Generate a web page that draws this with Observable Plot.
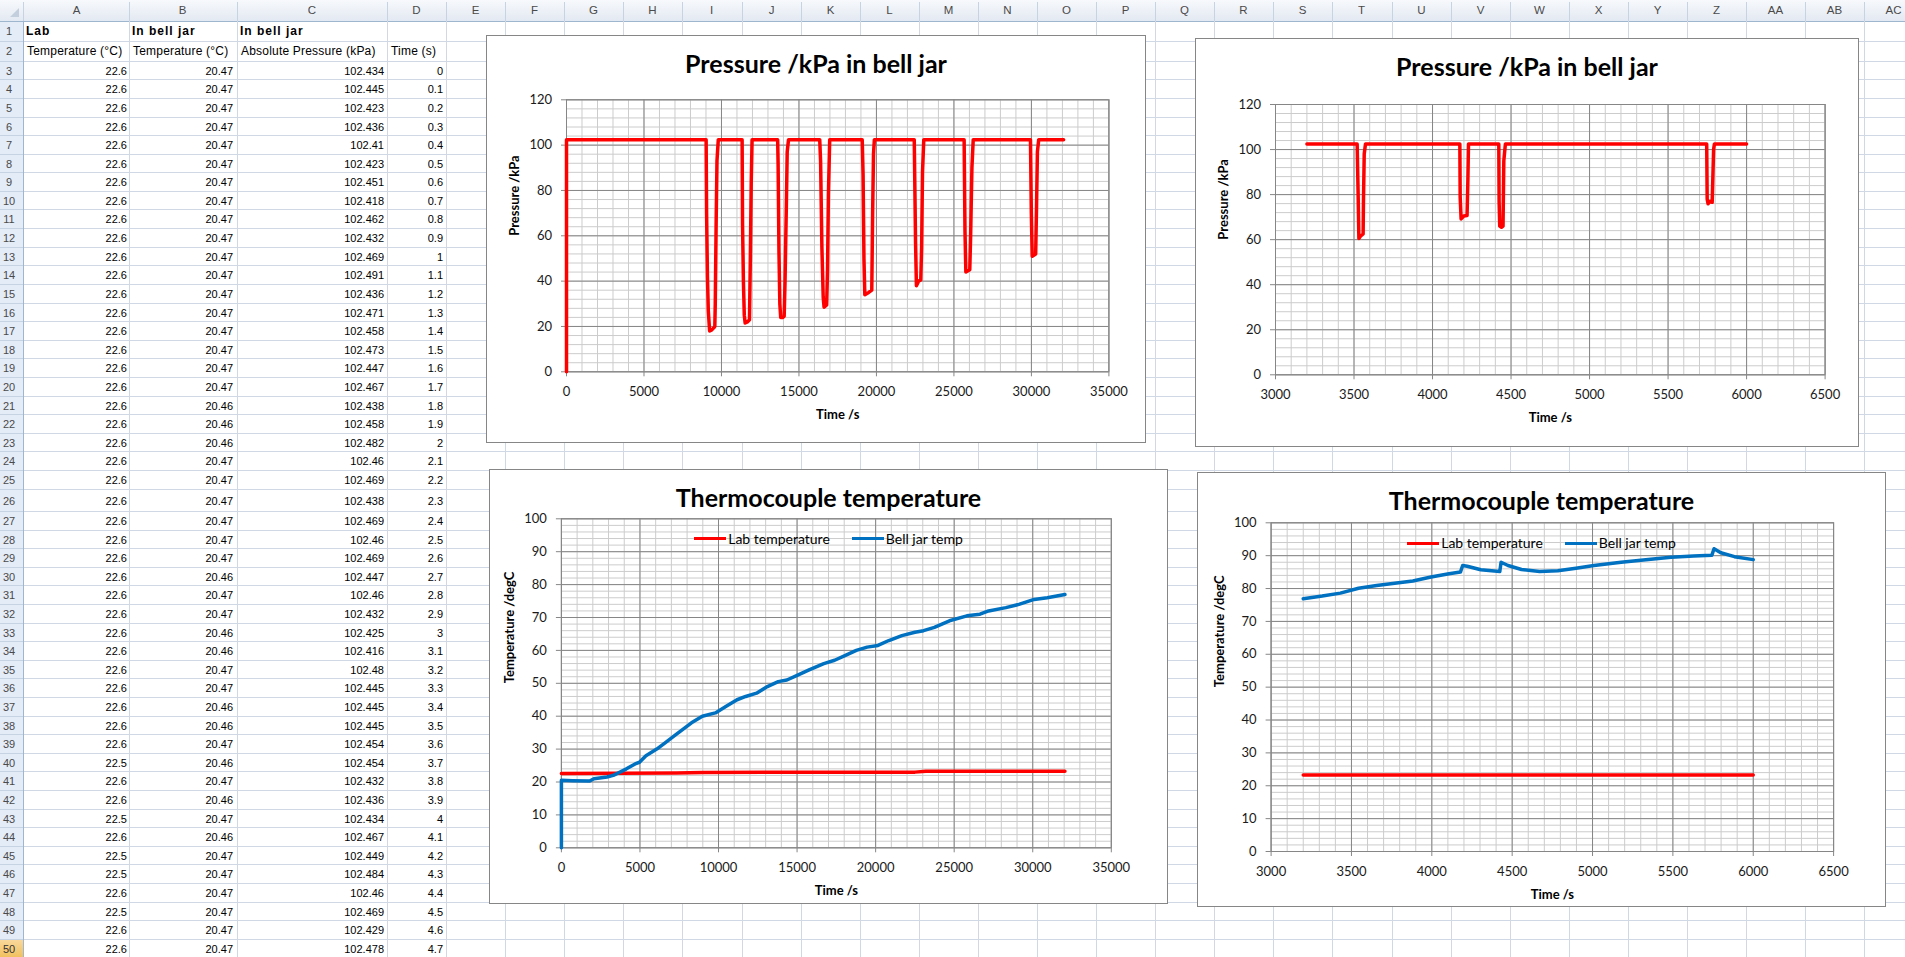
<!DOCTYPE html>
<html><head><meta charset="utf-8">
<script src="https://cdn.jsdelivr.net/npm/d3@7"></script>
<script src="https://cdn.jsdelivr.net/npm/@observablehq/plot@0.6"></script>
<style>
html,body{margin:0;padding:0;background:#fff;}
body{width:1905px;height:957px;overflow:hidden;position:relative;font-family:"Liberation Sans",Arial,sans-serif;}
.abs{position:absolute;}
.cell{position:absolute;font-size:11px;color:#000;white-space:nowrap;overflow:hidden;box-sizing:border-box;}
.chart{position:absolute;background:#fff;border:1px solid #868686;box-sizing:border-box;}
.chart svg{position:absolute;left:0;top:0;}
.ctitle{position:absolute;left:0;right:0;text-align:center;font:bold 25px/30px Lato,sans-serif;color:#000;white-space:nowrap;}
.legend{position:absolute;left:0;right:0;display:flex;justify-content:center;align-items:center;font:14px/20px Lato,sans-serif;color:#000;}
.legend .item{display:flex;align-items:center;margin:0 11px;}
.legend .sw{width:32px;height:3.5px;margin-right:2px;}
</style>
</head>
<body>
<script>
// ---------------- spreadsheet contents ----------------
const sheetHeaderRow1 = ["Lab", "In bell jar", "In bell jar", ""];
const sheetHeaderRow2 = ["Temperature (°C)", "Temperature (°C)", "Absolute Pressure (kPa)", "Time (s)"];
const sheetLabTemp = [22.6,22.6,22.6,22.6,22.6,22.6,22.6,22.6,22.6,22.6,22.6,22.6,22.6,22.6,22.6,22.6,22.6,22.6,22.6,22.6,22.6,22.6,22.6,22.6,22.6,22.6,22.6,22.6,22.6,22.6,22.6,22.6,22.6,22.6,22.6,22.6,22.6,22.5,22.6,22.6,22.5,22.6,22.5,22.5,22.6,22.5,22.6,22.6];
const sheetBellTemp = [20.47,20.47,20.47,20.47,20.47,20.47,20.47,20.47,20.47,20.47,20.47,20.47,20.47,20.47,20.47,20.47,20.47,20.47,20.46,20.46,20.46,20.47,20.47,20.47,20.47,20.47,20.47,20.46,20.47,20.47,20.46,20.46,20.47,20.47,20.46,20.46,20.47,20.46,20.47,20.46,20.47,20.46,20.47,20.47,20.47,20.47,20.47,20.47];
const sheetPressure = [102.434,102.445,102.423,102.436,102.41,102.423,102.451,102.418,102.462,102.432,102.469,102.491,102.436,102.471,102.458,102.473,102.447,102.467,102.438,102.458,102.482,102.46,102.469,102.438,102.469,102.46,102.469,102.447,102.46,102.432,102.425,102.416,102.48,102.445,102.445,102.445,102.454,102.454,102.432,102.436,102.434,102.467,102.449,102.484,102.46,102.469,102.429,102.478];
const sheetTime = [0,0.1,0.2,0.3,0.4,0.5,0.6,0.7,0.8,0.9,1,1.1,1.2,1.3,1.4,1.5,1.6,1.7,1.8,1.9,2,2.1,2.2,2.3,2.4,2.5,2.6,2.7,2.8,2.9,3,3.1,3.2,3.3,3.4,3.5,3.6,3.7,3.8,3.9,4,4.1,4.2,4.3,4.4,4.5,4.6,4.7];
const columnLetters = ["A","B","C","D","E","F","G","H","I","J","K","L","M","N","O","P","Q","R","S","T","U","V","W","X","Y","Z","AA","AB","AC"];

// ---------------- chart data ----------------
// Chart 1: pressure, whole run
const p1Time = [0,0,9010,9040,9095,9150,9235,9375,9515,9570,9600,9655,9710,9795,
  11332,11360,11416,11472,11528,11668,11808,11863,11919,11975,
  13626,13654,13710,13766,13822,13962,14046,14102,14186,14242,14326,
  16340,16396,16480,16564,16620,16788,16844,16900,16984,
  19082,19138,19194,19250,19502,19698,19754,19810,19866,
  22440,22524,22580,22720,22860,22916,22972,23055,
  25658,25714,25770,26022,26078,26161,26245,
  29939,29995,30051,30275,30331,30387,30470,32080];
const p1Pressure = [0,102.4,102.4,70,42,27,18,18.5,19.5,20,30,65,93,102.4,
  102.4,65,40,25,21.5,22,23,50,83,102.4,
  102.4,92,53,30,24,24,24.5,40,73,97,102.4,
  102.4,93,55,33,28.5,29.5,45,78,102.4,
  102.4,87,50,34,35,36,70,96,102.4,
  102.4,57,38,40,40.5,55,88,102.4,
  102.4,62,44,45,60,90,102.4,
  102.4,70,51,52,73,97,102.4,102.4];
// Chart 2: pressure, 3200 s to 6000 s
const p2Time = [3200,3520,3526,3531,3541,3558,3560,3565,3573,
  4174,4176,4182,4199,4220,4225,4229,
  4422,4424,4428,4439,4449,4454,4464,
  5746,5749,5755,5766,5781,5790,5795,6000];
const p2Pressure = [102.5,102.5,81,60.5,61.5,62.5,76,98,102.5,
  102.5,79,69.2,70.5,70.7,86,102.5,
  102.5,77,66,65.5,66,95,102.5,
  102.5,78,75.9,77,76.6,100,102.5,102.5];
// Chart 3: temperatures, whole run
const t1LabTime = [0,7300,9000,22500,23200,32050];
const t1LabTemp = [22.6,22.7,22.9,23.0,23.3,23.3];
const t1BellTime = [0,0,700,1800,2070,2900,3300,3730,4140,4690,4970,5380,6070,6620,7180,7730,8280,8970,9800,10490,11180,11730,12420,13110,13800,14350,15040,15730,16700,17390,18080,18770,19460,20150,20840,21670,22500,23050,23740,24700,25810,26640,27190,28290,29120,30090,30920,32050];
const t1BellTemp = [0,20.5,20.4,20.3,21,21.5,22,23,24,25.5,26,28,30,32,34,36,38,40,41,43,45,46,47,49,50.5,51,52.5,54,56,57,58.5,60,61,61.5,63,64.5,65.5,66,67,69,70.5,71,72,73,74,75.5,76,77];
// Chart 4: temperatures, 3200 s to 6000 s
const t2LabTime = [3200,6000];
const t2LabTemp = [23.3,23.3];
const t2BellTime = [3200,3318,3431,3544,3657,3769,3882,3995,4107,4178,4192,4220,4305,4423,4431,4474,4558,4671,4784,4897,5009,5178,5347,5488,5629,5742,5756,5798,5883,6000];
const t2BellTemp = [76.9,77.7,78.6,80.1,80.9,81.6,82.3,83.5,84.5,85,87,86.8,85.7,85.2,88,87,85.8,85.2,85.4,86.2,87,88,88.8,89.5,89.9,90.1,92.1,90.9,89.7,88.8];

// axis ticks
const ticksTimeFull = [0,5000,10000,15000,20000,25000,30000,35000];
const ticksTimeZoom = [3000,3500,4000,4500,5000,5500,6000,6500];
const ticksPressure = [0,20,40,60,80,100,120];
const ticksTemp = [0,10,20,30,40,50,60,70,80,90,100];

const titles = ["Pressure /kPa in bell jar", "Thermocouple temperature"];
const seriesNames = ["Lab temperature", "Bell jar temp"];
const RED = "#ff0000", BLUE = "#0070c0";

// ---------------- spreadsheet drawing ----------------
function el(cls, css, text) {
  const d = document.createElement("div");
  d.className = cls;
  Object.assign(d.style, css);
  if (text !== undefined) d.textContent = text;
  document.body.appendChild(d);
  return d;
}
const colEdges = [0, 22.7, 129.3, 236.7, 386.7, 446];
while (colEdges.length < columnLetters.length + 2) colEdges.push(colEdges[colEdges.length - 1] + 59.1);
const rowEdges = [0, 20.7, 40.7, 60.7];
for (let r = 3; r <= 50; r++) rowEdges.push(rowEdges[rowEdges.length - 1] + (r === 26 ? 22.5 : 18.6));
const R = Math.round;

// header backgrounds
el("abs", {left: "0px", top: "0px", width: "1905px", height: R(rowEdges[1]) + "px", background: "linear-gradient(#f7f9fc,#e3e9f2)"});
el("abs", {left: "0px", top: R(rowEdges[1]) + "px", width: R(colEdges[1]) + "px", height: "960px", background: "#e4ecf7"});
// row 50 highlighted header
el("abs", {left: "0px", top: R(rowEdges[50]) + "px", width: R(colEdges[1]) + "px", height: (R(rowEdges[51]) - R(rowEdges[50])) + "px", background: "linear-gradient(#f9d99f,#f1c15f)"});
// gridlines: horizontal
for (let i = 1; i < rowEdges.length; i++) {
  const y = R(rowEdges[i]);
  el("abs", {left: R(colEdges[1]) + "px", top: y + "px", width: "1905px", height: "1px", background: "#d0d7e5"});
  el("abs", {left: "0px", top: y + "px", width: R(colEdges[1]) + "px", height: "1px", background: i === 1 ? "#9eb6ce" : "#c5d3e3"});
}
el("abs", {left: "0px", top: R(rowEdges[1]) + "px", width: "1905px", height: "1px", background: "#9eb6ce"});
// gridlines: vertical
for (let i = 1; i < colEdges.length; i++) {
  const x = R(colEdges[i]);
  el("abs", {left: x + "px", top: R(rowEdges[1]) + "px", width: "1px", height: "960px", background: i === 1 ? "#9eb6ce" : "#d0d7e5"});
  el("abs", {left: x + "px", top: "2px", width: "1px", height: (R(rowEdges[1]) - 2) + "px", background: "#c5d3e3"});
}
// corner triangle
el("abs", {left: "10px", top: "8px", width: "0px", height: "0px", borderLeft: "9px solid transparent", borderBottom: "9px solid #c3cfdd"});
// column letters
columnLetters.forEach((c, i) => {
  el("cell", {left: R(colEdges[i + 1]) + "px", top: "0px", width: R(colEdges[i + 2] - colEdges[i + 1]) + "px", height: R(rowEdges[1]) + "px", lineHeight: R(rowEdges[1]) + "px", textAlign: "center", color: "#4a4a4a", fontSize: "11.5px"}, c);
});
// row numbers
for (let r = 1; r <= 50; r++) {
  const top = rowEdges[r], h = rowEdges[r + 1] - rowEdges[r];
  el("cell", {left: "0px", top: R(top) + "px", width: "18px", height: R(h) + "px", lineHeight: R(h) + 1 + "px", textAlign: "center", color: r === 50 ? "#333" : "#4a4a4a"}, String(r));
}
// cell texts
function cellText(r, c, text, align, css) {
  const left = colEdges[c + 1], w = colEdges[c + 2] - colEdges[c + 1];
  const top = rowEdges[r], h = rowEdges[r + 1] - rowEdges[r];
  el("cell", Object.assign({left: R(left) + "px", top: R(top) + "px", width: R(w) + "px", height: R(h) + "px", lineHeight: R(h) + 1 + "px", textAlign: align, padding: align === "right" ? "0 3px 0 0" : "0 0 0 3px"}, css || {}), text);
}
sheetHeaderRow1.forEach((t, c) => cellText(1, c, t, "left", {fontWeight: "bold", fontSize: "12px", letterSpacing: "1px"}));
sheetHeaderRow2.forEach((t, c) => cellText(2, c, t, "left", {fontSize: "12px", letterSpacing: "0.2px", paddingLeft: "4px"}));
for (let i = 0; i < sheetTime.length; i++) {
  const r = i + 3;
  cellText(r, 0, String(sheetLabTemp[i]), "right");
  cellText(r, 1, String(sheetBellTemp[i]), "right");
  cellText(r, 2, String(sheetPressure[i]), "right");
  cellText(r, 3, String(sheetTime[i]), "right");
}

// ---------------- charts ----------------
function drawChart(cfg) {
  const box = document.createElement("div");
  box.className = "chart";
  const bw = cfg.box.r - cfg.box.l, bh = cfg.box.b - cfg.box.t;
  Object.assign(box.style, {left: cfg.box.l + "px", top: cfg.box.t + "px", width: bw + "px", height: bh + "px"});
  document.body.appendChild(box);
  const W = bw - 2, H = bh - 2, ox = cfg.box.l + 1, oy = cfg.box.t + 1;
  const series = cfg.series.map(s => ({color: s.color, data: s.x.map((t, i) => ({t, v: s.y[i]}))}));
  const svg = Plot.plot({
    width: W, height: H,
    marginLeft: cfg.plot.l - ox, marginTop: cfg.plot.t - oy,
    marginRight: ox + W - cfg.plot.r, marginBottom: oy + H - cfg.plot.b,
    style: {fontFamily: "Lato, sans-serif", fontSize: "13px", background: "transparent", color: "#1a1a1a", overflow: "visible"},
    x: {domain: cfg.xDomain},
    y: {domain: cfg.yDomain},
    marks: [
      Plot.gridX(cfg.xMinor, {stroke: "#cccccc", strokeOpacity: 1}),
      Plot.gridY(cfg.yMinor, {stroke: "#cccccc", strokeOpacity: 1}),
      Plot.gridX(cfg.xTicks, {stroke: "#868686", strokeOpacity: 1}),
      Plot.gridY(cfg.yTicks, {stroke: "#868686", strokeOpacity: 1}),
      Plot.frame({stroke: "#868686"}),
      Plot.axisX(cfg.xTicks, {tickSize: 5, tickPadding: 10, stroke: "#868686", fill: "#1a1a1a", fontSize: 13, label: null, tickFormat: d => String(d)}),
      Plot.axisY(cfg.yTicks, {tickSize: 5, tickPadding: 9.5, stroke: "#868686", fill: "#1a1a1a", fontSize: 13, label: null, tickFormat: d => String(d)}),
      ...series.map(s => Plot.line(s.data, {x: "t", y: "v", stroke: s.color, strokeWidth: 3.5, strokeLinejoin: "round"})),
      Plot.text([cfg.xLabel], {text: d => d, frameAnchor: "bottom", dy: 43, lineAnchor: "middle", fontWeight: "bold", fontSize: 13, fill: "#000"}),
      Plot.text([cfg.yLabel], {text: d => d, frameAnchor: "left", dx: -51.5, rotate: -90, lineAnchor: "middle", fontWeight: "bold", fontSize: 13, fill: "#000"})
    ]
  });
  box.appendChild(svg);
  const title = document.createElement("div");
  title.className = "ctitle";
  title.style.top = "12px";
  title.textContent = cfg.title;
  box.appendChild(title);
  if (cfg.legend) {
    const lg = document.createElement("div");
    lg.className = "legend";
    lg.style.top = (cfg.legendY - 10) + "px";
    cfg.legend.forEach(([name, color]) => {
      const it = document.createElement("div");
      it.className = "item";
      const sw = document.createElement("div");
      sw.className = "sw"; sw.style.background = color;
      const tx = document.createElement("span");
      tx.textContent = name;
      it.appendChild(sw); it.appendChild(tx);
      lg.appendChild(it);
    });
    box.appendChild(lg);
  }
}

const minorTimeFull = d3.range(0, 35001, 1000);
const minorTimeZoom = d3.range(3000, 6501, 100);
const minorPressure = d3.range(0, 121, 4);
const minorTemp = d3.range(0, 101, 2);

drawChart({
  box: {l: 486, t: 35, r: 1146, b: 443}, plot: {l: 566, t: 99.3, r: 1108.4, b: 371.3},
  xDomain: [0, 35000], yDomain: [0, 120], xTicks: ticksTimeFull, yTicks: ticksPressure,
  xMinor: minorTimeFull, yMinor: minorPressure,
  series: [{x: p1Time, y: p1Pressure, color: RED}],
  title: titles[0], xLabel: "Time /s", yLabel: "Pressure /kPa"
});
drawChart({
  box: {l: 1195, t: 38, r: 1859, b: 447}, plot: {l: 1275, t: 104, r: 1824.6, b: 374.3},
  xDomain: [3000, 6500], yDomain: [0, 120], xTicks: ticksTimeZoom, yTicks: ticksPressure,
  xMinor: minorTimeZoom, yMinor: minorPressure,
  series: [{x: p2Time, y: p2Pressure, color: RED}],
  title: titles[0], xLabel: "Time /s", yLabel: "Pressure /kPa"
});
drawChart({
  box: {l: 489, t: 469, r: 1168, b: 904}, plot: {l: 560.9, t: 518.3, r: 1110.8, b: 847.3},
  xDomain: [0, 35000], yDomain: [0, 100], xTicks: ticksTimeFull, yTicks: ticksTemp,
  xMinor: minorTimeFull, yMinor: minorTemp,
  series: [{x: t1LabTime, y: t1LabTemp, color: RED}, {x: t1BellTime, y: t1BellTemp, color: BLUE}],
  title: titles[1], xLabel: "Time /s", yLabel: "Temperature /degC",
  legend: [[seriesNames[0], RED], [seriesNames[1], BLUE]], legendY: 68.7
});
drawChart({
  box: {l: 1197, t: 472, r: 1886, b: 907}, plot: {l: 1270.6, t: 522.3, r: 1833.1, b: 851},
  xDomain: [3000, 6500], yDomain: [0, 100], xTicks: ticksTimeZoom, yTicks: ticksTemp,
  xMinor: minorTimeZoom, yMinor: minorTemp,
  series: [{x: t2LabTime, y: t2LabTemp, color: RED}, {x: t2BellTime, y: t2BellTemp, color: BLUE}],
  title: titles[1], xLabel: "Time /s", yLabel: "Temperature /degC",
  legend: [[seriesNames[0], RED], [seriesNames[1], BLUE]], legendY: 70.4
});
</script>
</body></html>
